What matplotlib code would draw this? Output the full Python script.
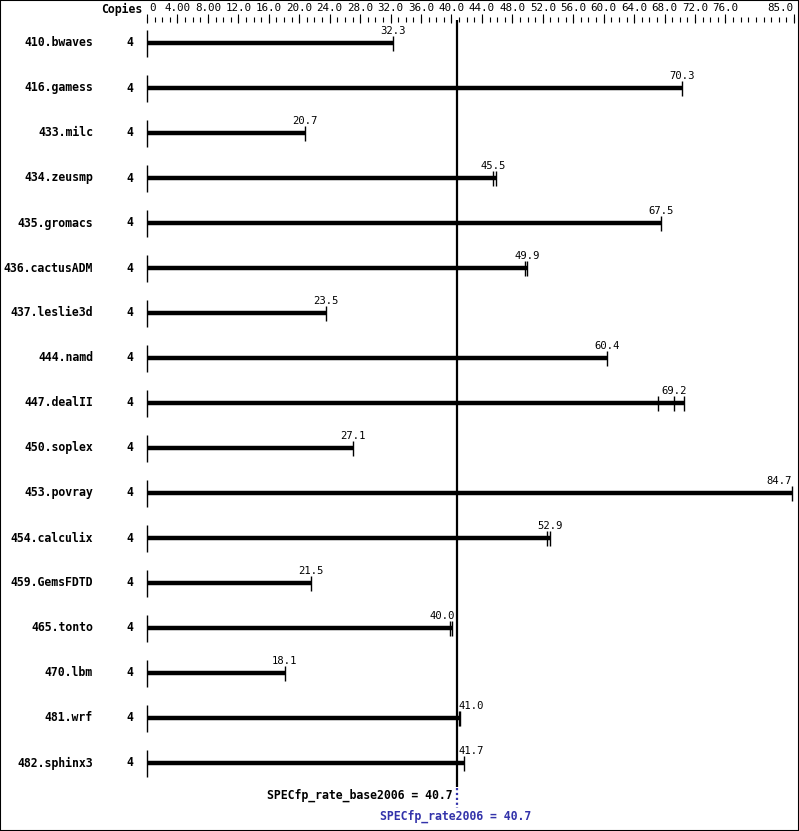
import numpy as np
import matplotlib
matplotlib.use("Agg")
import matplotlib.pyplot as plt
from matplotlib.patches import Rectangle

# benchmark data (median label + individual run ticks)
benchmarks = ["410.bwaves", "416.gamess", "433.milc", "434.zeusmp", "435.gromacs",
              "436.cactusADM", "437.leslie3d", "444.namd", "447.dealII", "450.soplex",
              "453.povray", "454.calculix", "459.GemsFDTD", "465.tonto", "470.lbm",
              "481.wrf", "482.sphinx3"]
copies = [4] * 17
medians = [32.3, 70.3, 20.7, 45.5, 67.5, 49.9, 23.5, 60.4, 69.2, 27.1,
           84.7, 52.9, 21.5, 40.0, 18.1, 41.0, 41.7]
runs = [[32.3], [70.3], [20.7], [45.4, 45.8], [67.5], [49.7, 49.9], [23.5], [60.4],
        [67.1, 69.2, 70.5], [27.1], [84.7], [52.6, 52.9], [21.5], [39.8, 40.1],
        [18.1], [41.0, 41.1], [41.7]]
base_score = 40.7
peak_score = 40.7
tick_labels = ["0", "4.00", "8.00", "12.0", "16.0", "20.0", "24.0", "28.0", "32.0",
               "36.0", "40.0", "44.0", "48.0", "52.0", "56.0", "60.0", "64.0", "68.0",
               "72.0", "76.0", "85.0"]
tick_values = [0, 4, 8, 12, 16, 20, 24, 28, 32, 36, 40, 44, 48, 52, 56, 60, 64, 68, 72, 76, 85]

W, H = 799, 831
X0, SX = 147, 647 / 85.0     # pixel of 0, pixels per unit
Y0, DY = 43, 45.0            # pixel of first row, row spacing


def px2x(px):
    return (px - X0) / SX


def px2y(py):
    return (py - Y0) / DY


mono = "DejaVu Sans Mono"
fig = plt.figure(figsize=(W / 100, H / 100), dpi=100)
ax = fig.add_axes([0, 0, 1, 1])
ax.set_xlim(px2x(0), px2x(W))
ax.set_ylim(px2y(H), px2y(0))
ax.axis("off")

# frame around the image
fig.patches.append(Rectangle((0, 0), 1, 1, transform=fig.transFigure, fill=False,
                             edgecolor="black", linewidth=1.5))

# top scale
ax.text(px2x(142), px2y(9), "Copies", ha="right", va="center", fontsize=8.3,
        fontweight="bold", family=mono)
for v, lab in zip(tick_values, tick_labels):
    ha = "center"
    xx = v
    if v == 0:
        ha = "left"
        xx = px2x(X0 + 2)
    elif v == 85:
        ha = "right"
        xx = v - 0.1
    ax.text(xx, px2y(8), lab, ha=ha, va="center", fontsize=7.8, family=mono)
minor = np.arange(0, 86)
ax.vlines(minor, px2y(17), px2y(22), color="black", linewidth=0.8)
ax.vlines(tick_values, px2y(14), px2y(23), color="black", linewidth=0.8)

# rows
half_lab = 12 / SX   # half width of a value label in data units
for i, name in enumerate(benchmarks):
    ax.text(px2x(93), i, name, ha="right", va="center", fontsize=8.3,
            fontweight="bold", family=mono)
    ax.text(px2x(130), i, str(copies[i]), ha="center", va="center", fontsize=8.3,
            fontweight="bold", family=mono)
    ax.vlines(0, i - 13 / DY, i + 14 / DY, color="black", linewidth=1.0)
    top = max(runs[i])
    ax.hlines(i, 0, top, color="black", linewidth=3.2)
    ax.vlines(runs[i], i - 7 / DY, i + 8 / DY, color="black", linewidth=1.0)
    lx = medians[i]
    ha = "center"
    if lx + half_lab > 85.6:
        ha = "right"
        lx = 85 - 0.3
    elif abs(lx - base_score) < half_lab:
        # keep the label clear of the score line
        if lx < base_score:
            ha = "right"
            lx = base_score - 2 / SX
        else:
            ha = "left"
            lx = base_score + 2 / SX
    ax.text(lx, i - 12 / DY, f"{medians[i]:.1f}", ha=ha, va="center",
            fontsize=7.6, family=mono)

# base score line
ax.vlines(base_score, px2y(20), px2y(787), color="black", linewidth=1.6)
ax.vlines(peak_score, px2y(788), px2y(808), color="#3333aa", linewidth=1.6,
          linestyles=(0, (1, 1.2)))
ax.text(px2x(453), px2y(795), f"SPECfp_rate_base2006 = {base_score:.1f}",
        ha="right", va="center", fontsize=8.3, fontweight="bold", family=mono)
ax.text(px2x(380), px2y(816), f"SPECfp_rate2006 = {peak_score:.1f}",
        ha="left", va="center", fontsize=8.3, fontweight="bold", family=mono,
        color="#3333aa")

fig.savefig("out.png", dpi=100)
